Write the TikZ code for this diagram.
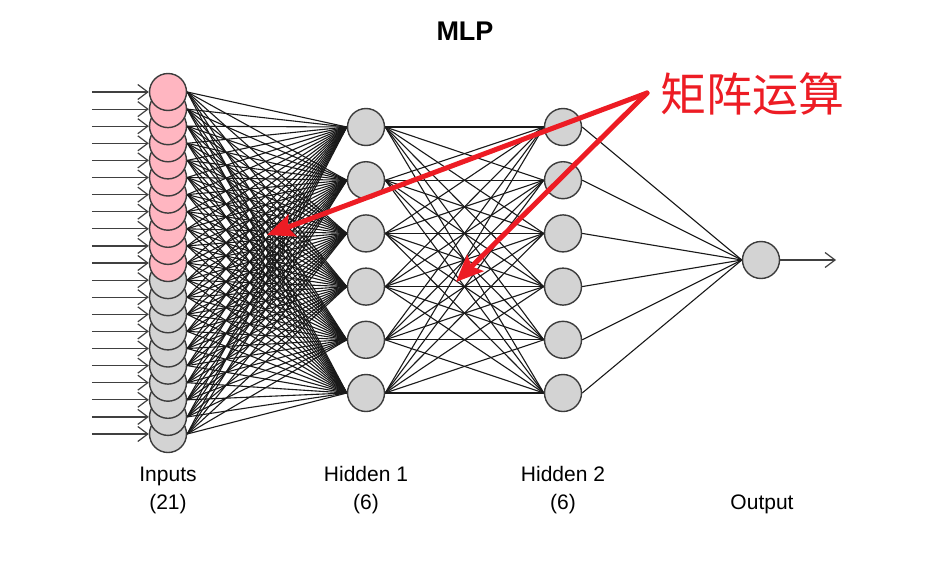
\documentclass[tikz,border=0pt]{standalone}
\usepackage{fontspec}
\setmainfont{Liberation Sans}
\newfontfamily\cjk{Noto Sans CJK SC}
\usetikzlibrary{
  arrows.meta  % Stealth、Straight Barb 箭头
}
\pgfdeclarelayer{background}
\pgfsetlayers{background,main}
\definecolor{nodegray}{RGB}{211,211,211}
\definecolor{nodepink}{RGB}{255,182,193}
\definecolor{markred}{RGB}{237,28,36}
\definecolor{rimgray}{RGB}{60,60,60}

\begin{document}
\begin{tikzpicture}[x=1pt, y=-1pt,
  neuron/.style={circle, draw=rimgray, line width=1.4pt, fill=nodegray,
                 minimum size=37pt, inner sep=0pt},
  wire/.style={line width=1.1pt, black!90},
  feed/.style={line width=1.2pt, black!75, -{Straight Barb[length=10pt,width=15pt]}},
  note/.style={markred, line width=5pt, line cap=round,
               -{Stealth[length=27pt,width=23pt,inset=5pt]}},
  tagtext/.style={font=\fontsize{21}{28}\selectfont, align=center}]
  \useasboundingbox (0,0) rectangle (945,581);

  % 标题
  \node[font=\bfseries\fontsize{27}{32}\selectfont] (title) at (465,31) {MLP};

  % 输入层（21 个，自下而上画，上面的盖住下面的）
  \foreach \i in {21,...,12}
    \node[neuron] (in\i) at (168,{92+17.1*(\i-1)}) {};
  \foreach \i in {11,...,1}
    \node[neuron, fill=nodepink] (in\i) at (168,{92+17.1*(\i-1)}) {};

  % 隐藏层 1、隐藏层 2
  \foreach \j in {1,...,6} {
    \node[neuron] (h\j) at (366,{127+53.2*(\j-1)}) {};
    \node[neuron] (g\j) at (563,{127+53.2*(\j-1)}) {};
  }

  % 输出节点
  \node[neuron] (out) at (761,260) {};

  % 连线放在底层
  \begin{pgfonlayer}{background}
    \fill[white] (0,0) rectangle (945,581);
    \foreach \i in {1,...,21} {
      \coordinate (src\i) at ([xshift=-57pt]in\i.west);
      \draw[feed] (src\i) -- (in\i.west);
      \foreach \j in {1,...,6}
        \draw[wire] (in\i.east) -- (h\j.west);
    }
    \foreach \j in {1,...,6} {
      \foreach \k in {1,...,6}
        \draw[wire] (h\j.east) -- (g\k.west);
      \draw[wire] (g\j.east) -- (out.west);
    }
  \end{pgfonlayer}

  % 输出箭头
  \coordinate (sink) at (836,260);
  \draw[feed] (out.east) -- (sink);

  % 各层说明
  \node[tagtext] (tag-in) at (168,490) {Inputs\\(21)};
  \node[tagtext] (tag-h1) at (366,490) {Hidden 1\\(6)};
  \node[tagtext] (tag-h2) at (563,490) {Hidden 2\\(6)};
  \node[tagtext] (tag-out) at (762,504) {Output};

  % 红色标注
  \node[font=\cjk\fontsize{46}{50}\selectfont, text=markred] (memo) at (752,94) {矩阵运算};
  \coordinate (hub) at (647,93);
  \coordinate (tipa) at (267,235);
  \coordinate (tipb) at (456,282);
  \draw[note] (hub) -- (tipa);
  \draw[note] (hub) -- (tipb);
\end{tikzpicture}
\end{document}
